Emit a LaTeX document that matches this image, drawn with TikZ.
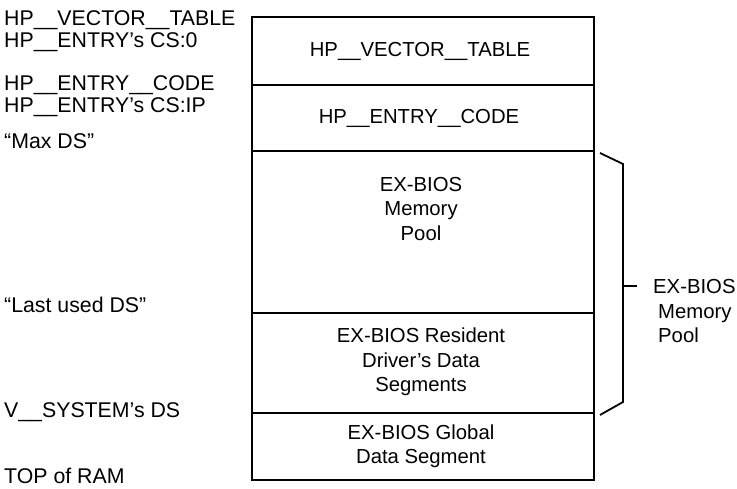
\documentclass[tikz,border=0pt]{standalone}
\usepackage{fontspec}
\setmainfont{Liberation Sans}
\begin{document}
\begin{tikzpicture}[x=1pt,y=-1pt,
  every node/.style={font=\fontsize{20.3}{24.5}\selectfont, inner sep=0pt},
  leftlabel/.style={anchor=base west, font=\fontsize{21.3}{25}\selectfont},
  celltext/.style={align=center},
  outerbox/.style={line width=2.8pt},
  divider/.style={line width=1.4pt},
  bracket/.style={line width=1.8pt, line join=miter}]
\useasboundingbox (0,0) rectangle (737,488);

% memory map column
\coordinate (tl) at (252,17);
\coordinate (br) at (594,480);
\foreach \y/\n in {85/d1,151/d2,313/d3,413/d4}{
  \coordinate (\n l) at (252,\y);
  \coordinate (\n r) at (594,\y);
  \draw[divider] (\n l) -- (\n r);
}
\draw[outerbox] (tl) rectangle (br);

% contents of each region
\node[celltext] (vt)   at (420,51)  {HP\_\_VECTOR\_\_TABLE};
\node[celltext] (ec)   at (419,118) {HP\_\_ENTRY\_\_CODE};
\node[celltext] (pool) at (421,209) {EX-BIOS\\Memory\\Pool};
\node[celltext] (drv)  at (421,362) {EX-BIOS Resident\\Driver's Data\\Segments};
\node[celltext] (glb)  at (421,446) {EX-BIOS Global\\Data Segment};

% addresses on the left
\node[leftlabel] (a1) at (4,25)  {HP\_\_VECTOR\_\_TABLE};
\node[leftlabel] (a2) at (4,47)  {HP\_\_ENTRY's CS:0};
\node[leftlabel] (a3) at (4,90)  {HP\_\_ENTRY\_\_CODE};
\node[leftlabel] (a4) at (4,112) {HP\_\_ENTRY's CS:IP};
\node[leftlabel] (a5) at (4,148) {``Max DS''};
\node[leftlabel] (a6) at (4,312) {``Last used DS''};
\node[leftlabel] (a7) at (4,417) {V\_\_SYSTEM's DS};
\node[leftlabel] (a8) at (4,483) {TOP of RAM};

% brace spanning the memory pool
\coordinate (b1) at (600,153);
\coordinate (b2) at (623,164);
\coordinate (b3) at (623,402);
\coordinate (b4) at (600,415);
\coordinate (t1) at (623,286);
\coordinate (t2) at (637,286);
\draw[bracket] (b1) -- (b2) -- (b3) -- (b4);
\draw[bracket] (t1) -- (t2);
\node[anchor=base west] (p1) at (653,293) {EX-BIOS};
\node[anchor=base west] (p2) at (658,318) {Memory};
\node[anchor=base west] (p3) at (658,342) {Pool};
\end{tikzpicture}
\end{document}
